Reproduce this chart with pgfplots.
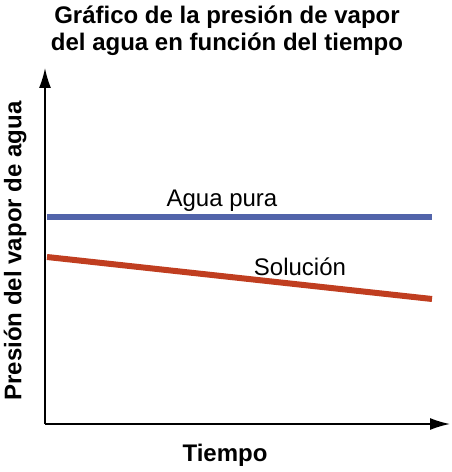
\documentclass[border=0pt]{standalone}
\usepackage{pgfplots}
\pgfplotsset{compat=1.18}
\usetikzlibrary{arrows.meta}
\usepackage{fontspec}
\setmainfont{Liberation Sans}
\definecolor{bluel}{RGB}{82,100,170}
\definecolor{redl}{RGB}{192,62,32}
\begin{document}
\begin{tikzpicture}
\begin{axis}[
  at={(0pt,0pt)}, anchor=south west,
  scale only axis, width=405pt, height=356pt,
  xmin=0, xmax=405, ymin=0, ymax=356,
  axis lines=left,
  axis line style={line width=1.6pt, -{Latex[length=20pt,width=12pt]}},
  xtick=\empty, ytick=\empty,
  clip=false,
]
\addplot[color=bluel, line width=5.5pt] coordinates {(2,207) (387,207)};
\addplot[color=redl, line width=6pt] coordinates {(2,167) (387,125)};
\node[font=\fontsize{24}{28}\selectfont] at (axis cs:177,223) {Agua pura};
\node[font=\fontsize{24}{28}\selectfont] at (axis cs:255,157) {Solución};
\node[font=\fontsize{24}{28}\selectfont\bfseries] at (axis cs:180,-31) {Tiempo};
\node[font=\fontsize{24}{28}\selectfont\bfseries, rotate=90] at (axis cs:-30,173) {Presión del vapor de agua};
\node[font=\fontsize{24}{27}\selectfont\bfseries, align=center] at (axis cs:182,393) {Gráfico de la presión de vapor\\del agua en función del tiempo};
\end{axis}
\pgfresetboundingbox
\useasboundingbox (-45pt,-48pt) rectangle (406pt,424pt);
\end{tikzpicture}
\end{document}
